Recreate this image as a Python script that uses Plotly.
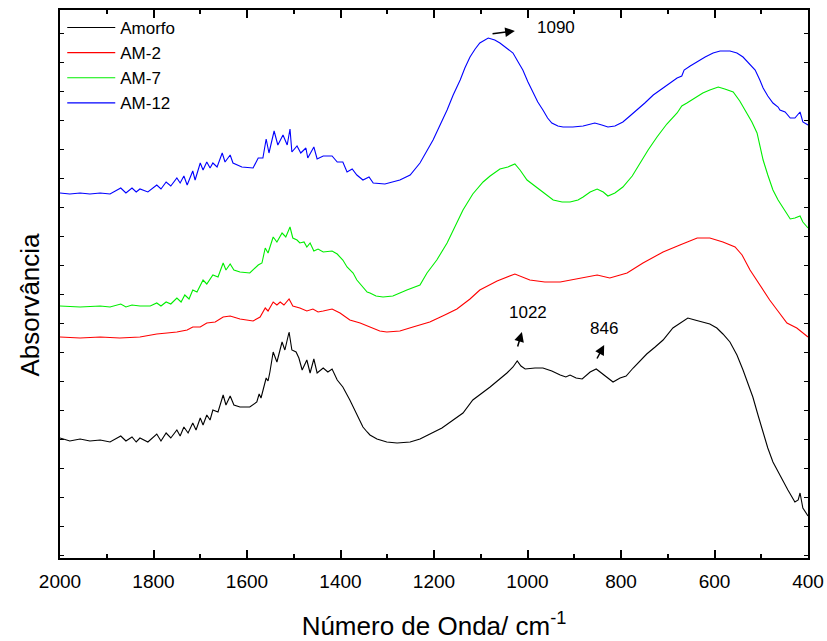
import plotly.graph_objects as go

# ---------------- data (wavenumber cm-1, absorbance a.u.) ----------------
wn_amorfo = [2000, 1979, 1957, 1936, 1914, 1893, 1870, 1859, 1846, 1837, 1829, 1812, 1793, 1784, 1773, 1763,
             1750, 1743, 1735, 1726, 1716, 1709, 1700, 1694, 1686, 1679, 1673, 1662, 1651, 1645, 1636, 1628,
             1615, 1594, 1579, 1574, 1570, 1566, 1559, 1555, 1551, 1544, 1536, 1525, 1519, 1510, 1504, 1495,
             1489, 1482, 1472, 1465, 1457, 1450, 1437, 1427, 1418, 1407, 1395, 1380, 1365, 1352, 1343, 1337,
             1322, 1301, 1279, 1251, 1230, 1209, 1183, 1159, 1138, 1117, 1080, 1044, 1031, 1022, 1014, 1005,
             984, 967, 948, 930, 918, 909, 896, 883, 866, 853, 836, 817, 802, 789, 774, 759, 745, 727, 710,
             689, 667, 657, 642, 625, 610, 595, 582, 567, 552, 539, 528, 518, 507, 496, 486, 475, 464, 453,
             443, 428, 421, 417, 411, 400]
abs_amorfo = [1.20, 1.17, 1.19, 1.17, 1.18, 1.16, 1.22, 1.17, 1.21, 1.16, 1.20, 1.16, 1.24, 1.17, 1.25, 1.20,
              1.28, 1.22, 1.31, 1.25, 1.35, 1.28, 1.40, 1.33, 1.43, 1.38, 1.48, 1.46, 1.63, 1.53, 1.62, 1.53,
              1.51, 1.51, 1.56, 1.64, 1.60, 1.68, 1.80, 1.77, 1.86, 2.06, 1.96, 2.16, 2.08, 2.26, 2.08, 2.06,
              2.00, 1.88, 1.98, 1.85, 1.99, 1.85, 1.90, 1.86, 1.89, 1.78, 1.71, 1.58, 1.43, 1.31, 1.26, 1.23,
              1.19, 1.16, 1.15, 1.16, 1.19, 1.24, 1.30, 1.38, 1.45, 1.58, 1.71, 1.85, 1.91, 1.97, 1.92, 1.89,
              1.90, 1.90, 1.87, 1.83, 1.81, 1.83, 1.80, 1.79, 1.86, 1.89, 1.83, 1.76, 1.80, 1.82, 1.90, 1.97,
              2.04, 2.11, 2.18, 2.30, 2.37, 2.40, 2.38, 2.36, 2.34, 2.30, 2.24, 2.16, 2.03, 1.88, 1.74, 1.61,
              1.43, 1.25, 1.10, 0.96, 0.86, 0.76, 0.68, 0.56, 0.58, 0.65, 0.50, 0.42]

wn_am2 = [2000, 1957, 1914, 1872, 1829, 1793, 1771, 1750, 1728, 1716, 1700, 1686, 1668, 1651, 1636, 1615,
          1587, 1572, 1561, 1555, 1544, 1536, 1529, 1521, 1510, 1502, 1487, 1472, 1459, 1448, 1437, 1418,
          1401, 1380, 1358, 1337, 1316, 1301, 1273, 1245, 1209, 1177, 1151, 1123, 1102, 1065, 1027, 995,
          963, 930, 881, 851, 824, 787, 753, 710, 674, 637, 610, 582, 556, 541, 524, 510, 496, 482, 466,
          445, 424, 400]
abs_am2 = [2.21, 2.20, 2.21, 2.20, 2.21, 2.24, 2.25, 2.26, 2.28, 2.31, 2.31, 2.35, 2.36, 2.41, 2.42, 2.39,
           2.37, 2.41, 2.50, 2.47, 2.56, 2.53, 2.56, 2.53, 2.59, 2.52, 2.50, 2.47, 2.49, 2.46, 2.47, 2.49,
           2.45, 2.38, 2.35, 2.31, 2.27, 2.26, 2.27, 2.31, 2.36, 2.43, 2.49, 2.59, 2.68, 2.77, 2.84, 2.78,
           2.76, 2.76, 2.80, 2.83, 2.80, 2.85, 2.95, 3.06, 3.13, 3.20, 3.20, 3.16, 3.11, 3.03, 2.88, 2.78,
           2.68, 2.58, 2.48, 2.35, 2.30, 2.21]

wn_am7 = [2000, 1957, 1914, 1893, 1870, 1859, 1846, 1829, 1807, 1793, 1784, 1773, 1763, 1750, 1741, 1733,
          1724, 1716, 1707, 1694, 1686, 1673, 1662, 1651, 1645, 1636, 1628, 1615, 1594, 1576, 1568, 1561,
          1555, 1544, 1536, 1525, 1517, 1508, 1502, 1493, 1487, 1478, 1472, 1465, 1457, 1448, 1437, 1418,
          1407, 1395, 1386, 1373, 1365, 1352, 1343, 1337, 1324, 1309, 1288, 1258, 1230, 1215, 1194, 1172,
          1155, 1138, 1117, 1095, 1080, 1059, 1042, 1027, 1016, 1001, 973, 945, 926, 909, 892, 881, 866,
          851, 838, 828, 813, 796, 776, 759, 742, 723, 702, 680, 670, 659, 642, 625, 610, 592, 578, 560,
          546, 531, 520, 509, 503, 496, 486, 475, 464, 453, 438, 428, 417, 411, 400]
abs_am7 = [2.52, 2.51, 2.52, 2.51, 2.54, 2.51, 2.53, 2.52, 2.52, 2.55, 2.52, 2.56, 2.54, 2.60, 2.56, 2.63,
           2.59, 2.68, 2.66, 2.78, 2.74, 2.83, 2.81, 2.95, 2.88, 2.94, 2.88, 2.86, 2.85, 2.93, 2.95, 3.10,
           3.05, 3.21, 3.16, 3.25, 3.21, 3.31, 3.20, 3.18, 3.15, 3.16, 3.11, 3.15, 3.07, 3.09, 3.06, 3.07,
           3.04, 2.98, 2.91, 2.85, 2.78, 2.71, 2.66, 2.65, 2.62, 2.61, 2.62, 2.68, 2.73, 2.85, 2.98, 3.15,
           3.31, 3.48, 3.64, 3.76, 3.82, 3.89, 3.91, 3.94, 3.88, 3.78, 3.68, 3.58, 3.56, 3.56, 3.58, 3.61,
           3.66, 3.69, 3.66, 3.62, 3.65, 3.71, 3.82, 3.95, 4.08, 4.21, 4.34, 4.45, 4.52, 4.55, 4.60, 4.65,
           4.68, 4.71, 4.69, 4.66, 4.57, 4.45, 4.36, 4.25, 4.13, 3.98, 3.83, 3.68, 3.58, 3.50, 3.39, 3.40,
           3.42, 3.36, 3.30]

wn_am12 = [2000, 1979, 1957, 1936, 1914, 1893, 1870, 1859, 1846, 1837, 1829, 1812, 1793, 1784, 1773, 1763,
           1750, 1743, 1735, 1728, 1716, 1711, 1700, 1694, 1686, 1679, 1673, 1664, 1653, 1647, 1636, 1630,
           1611, 1587, 1576, 1566, 1559, 1553, 1542, 1534, 1523, 1514, 1508, 1504, 1493, 1485, 1474, 1470,
           1457, 1450, 1437, 1418, 1407, 1395, 1386, 1375, 1365, 1352, 1339, 1330, 1305, 1273, 1251, 1230,
           1202, 1187, 1172, 1159, 1144, 1134, 1123, 1112, 1102, 1084, 1070, 1059, 1044, 1031, 1020, 1010,
           999, 988, 978, 967, 957, 948, 935, 924, 903, 881, 866, 856, 841, 828, 813, 796, 781, 766, 749,
           731, 712, 695, 680, 670, 665, 652, 638, 620, 603, 588, 567, 552, 539, 524, 513, 503, 496, 486,
           475, 464, 460, 449, 438, 428, 417, 411, 400]
abs_am12 = [3.65, 3.64, 3.65, 3.64, 3.65, 3.64, 3.70, 3.65, 3.70, 3.66, 3.69, 3.66, 3.73, 3.69, 3.76, 3.72,
            3.80, 3.75, 3.82, 3.73, 3.87, 3.78, 3.95, 3.88, 3.96, 3.90, 3.95, 3.91, 4.05, 3.96, 4.03, 3.95,
            3.91, 3.90, 4.00, 4.00, 4.19, 4.05, 4.27, 4.13, 4.23, 4.13, 4.29, 4.06, 4.12, 4.05, 4.10, 4.00,
            4.11, 3.99, 4.02, 4.02, 3.96, 3.96, 3.86, 3.89, 3.83, 3.78, 3.81, 3.75, 3.74, 3.78, 3.83, 3.95,
            4.18, 4.33, 4.48, 4.63, 4.78, 4.90, 5.01, 5.09, 5.15, 5.20, 5.18, 5.15, 5.10, 5.05, 4.96, 4.88,
            4.76, 4.65, 4.56, 4.48, 4.40, 4.35, 4.32, 4.31, 4.31, 4.32, 4.34, 4.35, 4.33, 4.31, 4.32, 4.36,
            4.42, 4.48, 4.55, 4.63, 4.69, 4.75, 4.80, 4.82, 4.88, 4.92, 4.96, 5.01, 5.05, 5.07, 5.07, 5.05,
            5.01, 4.94, 4.88, 4.78, 4.70, 4.62, 4.55, 4.51, 4.48, 4.46, 4.40, 4.40, 4.46, 4.36, 4.33]

series_names = ["Amorfo", "AM-2", "AM-7", "AM-12"]
series_colors = ["#000000", "#FF0000", "#00EE00", "#0000FF"]

# annotations: label, text position, arrow head, arrow tail (wavenumber, absorbance)
ann_labels = ["1090", "1022", "846"]
ann_text_pos = [(940, 5.31), (999, 2.46), (836, 2.30)]
ann_head = [(1027, 5.27), (1012, 2.26), (836, 2.13)]
ann_tail = [(1078, 5.24), (1022, 2.10), (853, 1.98)]

FONT = "Liberation Sans"

fig = go.Figure()
for i, (xs, ys) in enumerate([(wn_amorfo, abs_amorfo), (wn_am2, abs_am2), (wn_am7, abs_am7), (wn_am12, abs_am12)]):
    fig.add_trace(go.Scatter(x=xs, y=ys, mode="lines", name=series_names[i],
                             legendgroup=series_names[i],
                             line=dict(color=series_colors[i], width=1.1)))

for lab, tp in zip(ann_labels, ann_text_pos):
    fig.add_annotation(x=tp[0], y=tp[1], xref="x", yref="y", text=lab, showarrow=False,
                       font=dict(family=FONT, size=17, color="black"))
for hd, tl in zip(ann_head, ann_tail):
    fig.add_annotation(x=hd[0], y=hd[1], ax=tl[0], ay=tl[1], xref="x", yref="y",
                       axref="x", ayref="y", text="", showarrow=True,
                       arrowhead=2, arrowsize=1.3, arrowwidth=1.5, arrowcolor="black")

# y-axis title (placed as a rotated label, slightly below the axis centre as in the original)
fig.add_annotation(x=-0.0405, y=0.462, xref="paper", yref="paper", text="Absorvância",
                   showarrow=False, textangle=-90, xanchor="center", yanchor="middle",
                   font=dict(family=FONT, size=26, color="black"))

axis_common = dict(showline=True, linecolor="black", linewidth=1.5, mirror="ticks",
                   showgrid=False, zeroline=False, ticks="inside", tickcolor="black")

fig.update_layout(
    width=827, height=641,
    margin=dict(l=60, r=19, t=10, b=83),
    plot_bgcolor="white", paper_bgcolor="white",
    font=dict(family=FONT, color="black"),
    showlegend=True,
    legend=dict(x=0.003, y=1.0, xanchor="left", yanchor="top", bgcolor="rgba(0,0,0,0)",
                font=dict(family=FONT, size=17), traceorder="grouped", tracegroupgap=0,
                itemwidth=48),
    xaxis=dict(range=[2000, 400], tickmode="linear", tick0=400, dtick=200,
               ticklen=8, tickwidth=1.5, tickfont=dict(size=19, family=FONT),
               ticklabelstandoff=5, automargin=False,
               minor=dict(ticks="inside", ticklen=4, tickcolor="black", dtick=100, tick0=400, showgrid=False),
               title=dict(text="Número de Onda/ cm<sup>-1</sup>", font=dict(size=26, family=FONT), standoff=26),
               **axis_common),
    yaxis=dict(range=[0, 5.48], tickmode="linear", tick0=0.03, dtick=0.29, ticklen=4, tickwidth=1,
               showticklabels=False, automargin=False,
               **axis_common),
)

fig.write_html("out.html")
